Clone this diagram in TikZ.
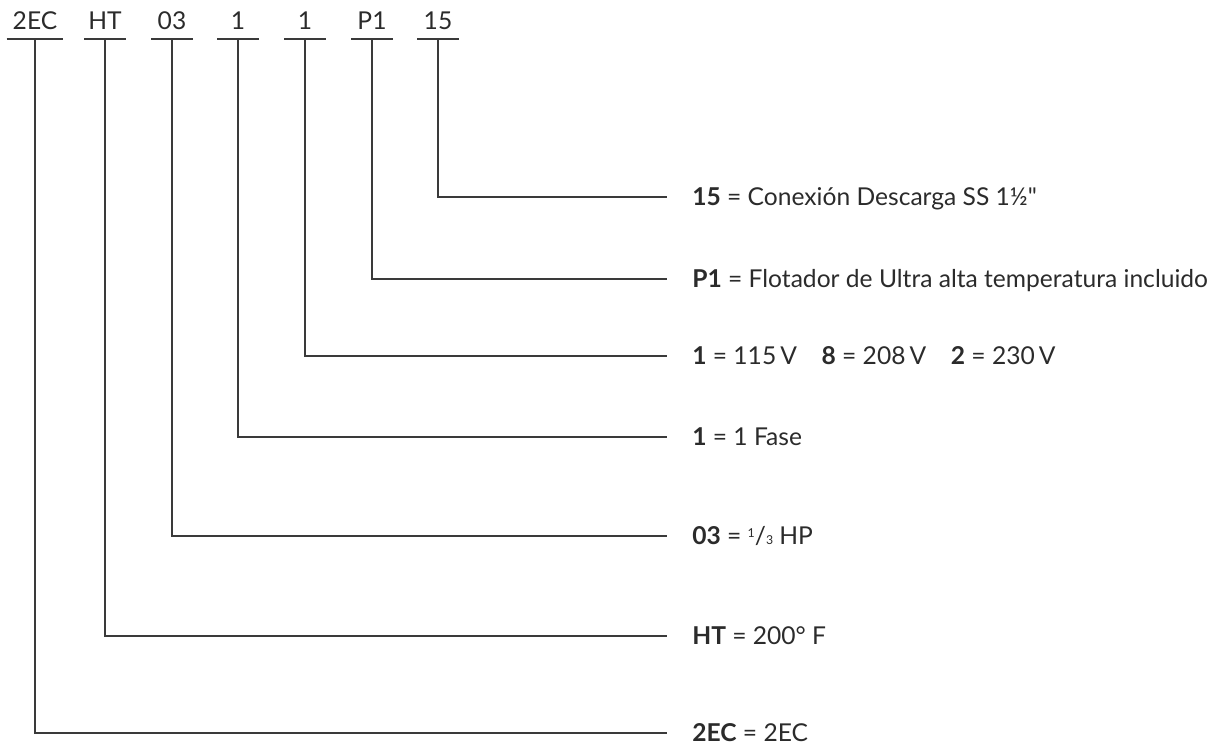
\documentclass[tikz,border=0pt]{standalone}
\usepackage{fontspec}
\setmainfont{Lato}
\usepackage{tikz}
\usetikzlibrary{positioning, calc}
\definecolor{inkgray}{HTML}{2B2B2B}
\definecolor{linegray}{HTML}{3A3A3A}

\newcommand{\third}{\raisebox{0.55ex}{\scriptsize 1}/{\scriptsize 3}}

\begin{document}
\begin{tikzpicture}[
  x=0.02cm, y=-0.02cm,
  codebox/.style={inner xsep=0pt, inner ysep=0.18cm, text depth=0pt,
                  text height=0.35cm, minimum width=0.82cm, anchor=south,
                  font=\fontsize{14}{16}\selectfont, text=inkgray},
  descbox/.style={inner sep=0pt, text depth=0pt, text height=0.35cm,
                  anchor=west, font=\fontsize{14}{16}\selectfont, text=inkgray},
  under/.style={draw=linegray, line width=0.7pt},
  link/.style={draw=linegray, line width=0.7pt, shorten >=0.5cm},
]
\useasboundingbox (0,0) rectangle (1218,748);

% code along the top
\node[codebox, minimum width=1.12cm] (c1) at (35,39)  {2EC};
\node[codebox] (c2) at (105,39) {HT};
\node[codebox] (c3) at (172,39) {03};
\node[codebox] (c4) at (238,39) {1};
\node[codebox] (c5) at (305,39) {1};
\node[codebox] (c6) at (372,39) {P1};
\node[codebox] (c7) at (438,39) {15};

\foreach \c in {c1,c2,c3,c4,c5,c6,c7}
  \draw[under] (\c.south west) -- (\c.south east);

% meanings
\node[descbox] (d7) at (692,197) {\textbf{15} = Conexión Descarga SS 1½\textquotedbl};
\node[descbox] (d6) at (692,279) {\textbf{P1} = Flotador de Ultra alta temperatura incluido};
\node[descbox] (d5) at (692,356) {\textbf{1} = 115\,V\quad\textbf{8} = 208\,V\quad\textbf{2} = 230\,V};
\node[descbox] (d4) at (692,437) {\textbf{1} = 1 Fase};
\node[descbox] (d3) at (692,536) {\textbf{03} = \third\ HP};
\node[descbox] (d2) at (692,636) {\textbf{HT} = 200° F};
\node[descbox] (d1) at (692,733) {\textbf{2EC} = 2EC};

\draw[link] (c7.south) |- (d7.west);
\draw[link] (c6.south) |- (d6.west);
\draw[link] (c5.south) |- (d5.west);
\draw[link] (c4.south) |- (d4.west);
\draw[link] (c3.south) |- (d3.west);
\draw[link] (c2.south) |- (d2.west);
\draw[link] (c1.south) |- (d1.west);
\end{tikzpicture}
\end{document}
